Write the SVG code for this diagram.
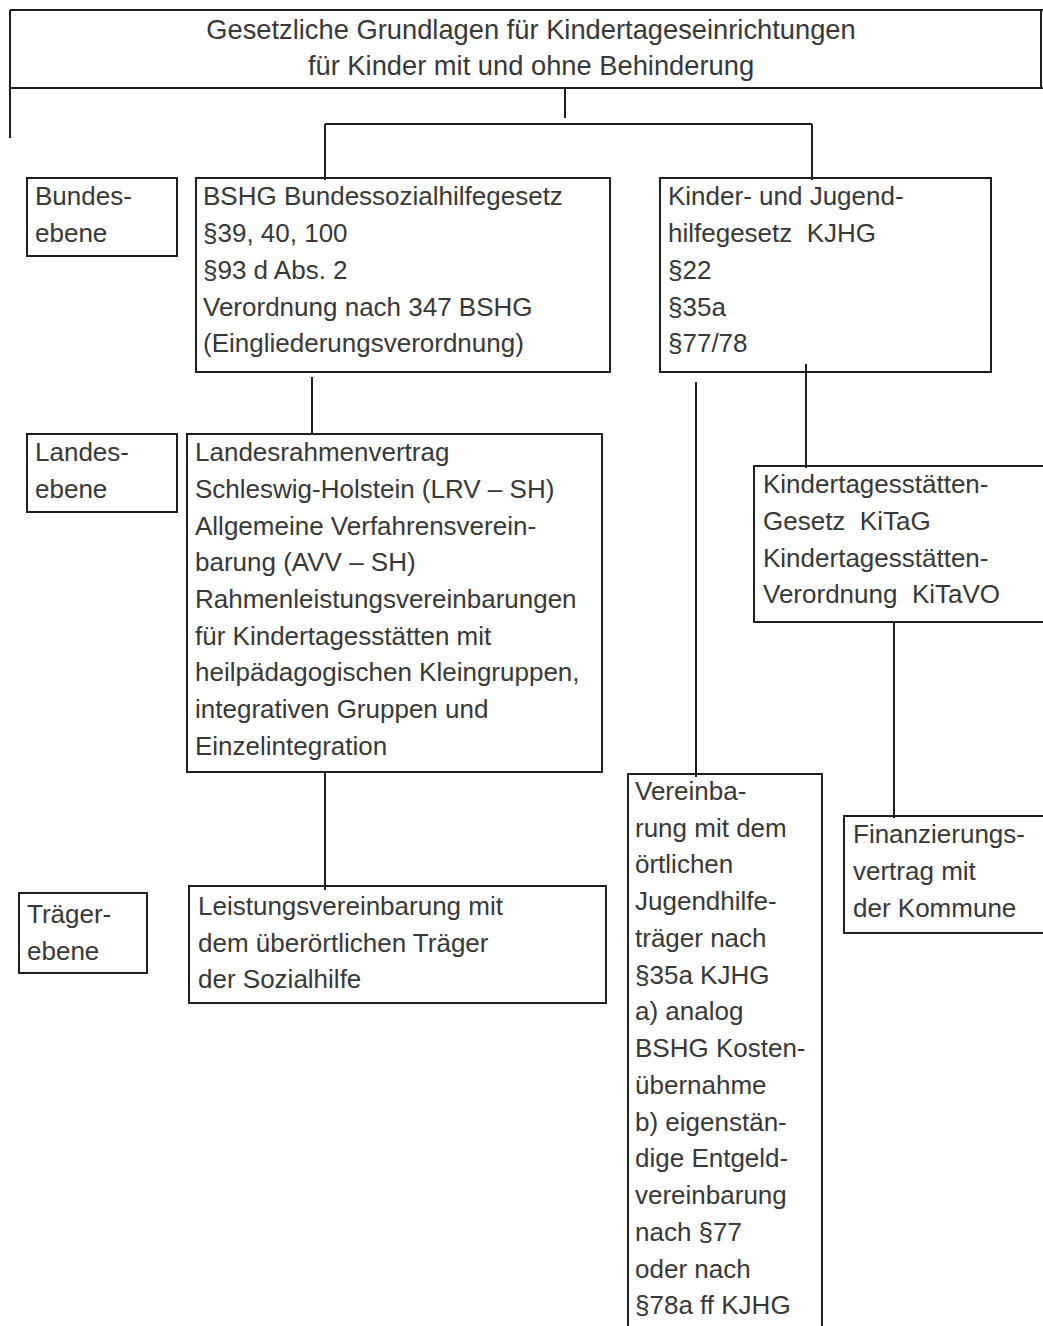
<svg xmlns="http://www.w3.org/2000/svg" width="1043" height="1326" viewBox="0 0 1043 1326">
<style>
  .bg { fill: #ffffff; }
  .box { fill: none; stroke: #1e1e1e; stroke-width: 2; }
  .ln { fill: none; stroke: #1e1e1e; stroke-width: 2; }
  text { font-family: "Liberation Sans", Arial, sans-serif; font-size: 26px; fill: #383838; white-space: pre; }
  .title { font-size: 27.3px; text-anchor: middle; }
</style>
<rect class="bg" x="0" y="0" width="1043" height="1326"/>

<g id="title">
  <path class="ln" d="M10 10 H1043 M10 88 H1043 M10 10 V138 M1041 10 V88"/>
  <text class="title" x="531" y="39">Gesetzliche Grundlagen für Kindertageseinrichtungen</text>
  <text class="title" x="531" y="75">für Kinder mit und ohne Behinderung</text>
</g>

<g id="connectors">
  <path class="ln" d="M565 88 V118"/>
  <path class="ln" d="M325 124 H812 M325 124 V180 M812 124 V180"/>
  <path class="ln" d="M312 377 V434"/>
  <path class="ln" d="M325 772 V890"/>
  <path class="ln" d="M806 364 V468"/>
  <path class="ln" d="M696 382 V777"/>
  <path class="ln" d="M894 622 V818"/>
</g>

<g id="bundesebene">
  <rect class="box" x="27" y="178" width="150" height="78"/>
  <text x="35" y="205">Bundes-</text>
  <text x="35" y="242">ebene</text>
</g>

<g id="bshg">
  <rect class="box" x="196" y="178" width="414" height="194"/>
  <text x="203" y="205">BSHG Bundessozialhilfegesetz</text>
  <text x="203" y="242">§39, 40, 100</text>
  <text x="203" y="279">§93 d Abs. 2</text>
  <text x="203" y="316">Verordnung nach 347 BSHG</text>
  <text x="203" y="352">(Eingliederungsverordnung)</text>
</g>

<g id="kjhg">
  <rect class="box" x="660" y="178" width="331" height="194"/>
  <text x="668" y="205">Kinder- und Jugend-</text>
  <text x="668" y="242" xml:space="preserve">hilfegesetz  KJHG</text>
  <text x="668" y="279">§22</text>
  <text x="668" y="316">§35a</text>
  <text x="668" y="352">§77/78</text>
</g>

<g id="landesebene">
  <rect class="box" x="27" y="434" width="150" height="78"/>
  <text x="35" y="461">Landes-</text>
  <text x="35" y="498">ebene</text>
</g>

<g id="landesrahmenvertrag">
  <rect class="box" x="187" y="434" width="415" height="338"/>
  <text x="195" y="461">Landesrahmenvertrag</text>
  <text x="195" y="498">Schleswig-Holstein (LRV – SH)</text>
  <text x="195" y="535">Allgemeine Verfahrensverein-</text>
  <text x="195" y="571">barung (AVV – SH)</text>
  <text x="195" y="608">Rahmenleistungsvereinbarungen</text>
  <text x="195" y="645">für Kindertagesstätten mit</text>
  <text x="195" y="681">heilpädagogischen Kleingruppen,</text>
  <text x="195" y="718">integrativen Gruppen und</text>
  <text x="195" y="755">Einzelintegration</text>
</g>

<g id="kitag">
  <rect class="box" x="754" y="466" width="300" height="156"/>
  <text x="763" y="493">Kindertagesstätten-</text>
  <text x="763" y="530" xml:space="preserve">Gesetz  KiTaG</text>
  <text x="763" y="567">Kindertagesstätten-</text>
  <text x="763" y="603" xml:space="preserve">Verordnung  KiTaVO</text>
</g>

<g id="vereinbarung">
  <rect class="box" x="628" y="774" width="194" height="570"/>
  <text x="635" y="800">Vereinba-</text>
  <text x="635" y="837">rung mit dem</text>
  <text x="635" y="873">örtlichen</text>
  <text x="635" y="910">Jugendhilfe-</text>
  <text x="635" y="947">träger nach</text>
  <text x="635" y="984">§35a KJHG</text>
  <text x="635" y="1020">a) analog</text>
  <text x="635" y="1057">BSHG Kosten-</text>
  <text x="635" y="1094">übernahme</text>
  <text x="635" y="1131">b) eigenstän-</text>
  <text x="635" y="1167">dige Entgeld-</text>
  <text x="635" y="1204">vereinbarung</text>
  <text x="635" y="1241">nach §77</text>
  <text x="635" y="1278">oder nach</text>
  <text x="635" y="1314">§78a ff KJHG</text>
</g>

<g id="finanzierung">
  <rect class="box" x="844" y="816" width="210" height="117"/>
  <text x="853" y="843">Finanzierungs-</text>
  <text x="853" y="880">vertrag mit</text>
  <text x="853" y="917">der Kommune</text>
</g>

<g id="traegerebene">
  <rect class="box" x="19" y="893" width="128" height="80"/>
  <text x="27" y="923">Träger-</text>
  <text x="27" y="960">ebene</text>
</g>

<g id="leistungsvereinbarung">
  <rect class="box" x="189" y="886" width="417" height="117"/>
  <text x="198" y="915">Leistungsvereinbarung mit</text>
  <text x="198" y="952">dem überörtlichen Träger</text>
  <text x="198" y="988">der Sozialhilfe</text>
</g>
</svg>
